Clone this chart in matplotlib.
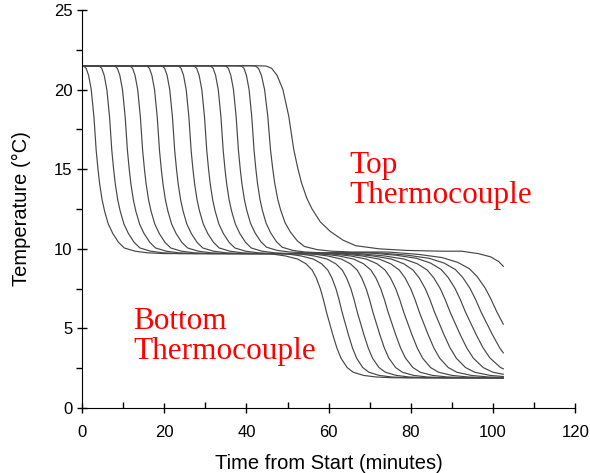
import numpy as np
import matplotlib.pyplot as plt
from matplotlib.ticker import MultipleLocator

# time (min) at which each run crosses 15 C in the first drop (top thermocouple)
drop1_mid = [3.9, 7.7, 11.5, 15.2, 19.3, 23.0, 27.0, 30.8, 34.8, 38.5, 42.3, 46.4, 52.5]
# time stretch of the first drop for each run
drop1_tail = [1, 1, 1, 1, 1, 1, 1, 1, 1, 1, 1, 1.2, 2.2]
# time (min) at which each run crosses 6 C in the second drop (bottom thermocouple)
drop2_mid = [59.5, 63.3, 67.0, 70.8, 74.5, 78.3, 82.1, 85.8, 89.6, 93.3, 97.1, 100.9, 106.4]
# time stretch of the second drop for each run
drop2_tail = [1.0, 1.0, 1.05, 1.1, 1.2, 1.3, 1.4, 1.5, 1.6, 1.7, 1.8, 1.9, 1.0]
# plateau levels (C)
start_temp = 21.5
mid_temp = [9.7, 9.7, 9.7, 9.7, 9.7, 9.7, 9.7, 9.7, 9.7, 9.75, 9.75, 9.8, 9.85]
low_temp = 1.9
t_end = 102.5

# shape of the first drop (offset from crossing, min / temp C)
d1_dt = [-4.5, -3.5, -2.9, -2.3, -1.65, -1.0, -0.45, 0, 0.4, 1.0, 1.6, 2.5, 3.6, 5.0, 6.4, 9, 12, 16]
d1_T = [21.5, 21.48, 21.34, 20.9, 20.0, 18.3, 16.2, 15.0, 14.1, 13.1, 12.4, 11.6, 11.0,
        10.45, 10.1, 9.9, 9.8, 9.75]
# shape of the second drop
d2_dt = [-14, -10, -7, -5, -3.5, -2.5, -1.5, -0.75, 0, 0.75, 1.5, 2.5, 3.5, 5, 6.5, 9, 12, 16]
d2_T = [9.75, 9.6, 9.4, 9.1, 8.7, 8.2, 7.5, 6.8, 6.0, 5.3, 4.6, 3.75, 3.1, 2.5, 2.2, 2.0, 1.9, 1.85]


def run_curve(i):
    # scale template shapes onto this run's plateaus
    f1 = (np.array(d1_T) - 9.75) / (21.5 - 9.75)
    t1 = drop1_mid[i] + np.array(d1_dt) * drop1_tail[i]
    T1 = mid_temp[i] + (start_temp - mid_temp[i]) * f1
    f2 = (np.array(d2_T) - 1.85) / (9.75 - 1.85)
    t2 = drop2_mid[i] + np.array(d2_dt) * drop2_tail[i]
    T2 = low_temp + (mid_temp[i] - low_temp) * f2
    first = t1 < t2[0]
    tt = np.concatenate([[0], t1[first], t2])
    TT = np.concatenate([[start_temp], T1[first], T2])
    keep = (tt >= 0) & (tt <= t_end)
    t, T = tt[keep], TT[keep]
    if t[-1] < t_end:
        t = np.append(t, t_end)
        T = np.append(T, np.interp(t_end, tt, TT))
    return t, T


fig = plt.figure(figsize=(5.9, 4.73), dpi=100)
ax = fig.add_axes([0.139, 0.1374, 0.836, 0.8414])

for i in range(len(drop1_mid)):
    t, T = run_curve(i)
    ax.plot(t, T, color='#474747', lw=0.85)

ax.set_xlim(0, 120)
ax.set_ylim(0, 25)
ax.xaxis.set_major_locator(MultipleLocator(20))
ax.xaxis.set_minor_locator(MultipleLocator(10))
ax.yaxis.set_major_locator(MultipleLocator(5))
ax.yaxis.set_minor_locator(MultipleLocator(2.5))
for s in ['top', 'right']:
    ax.spines[s].set_visible(False)
ax.tick_params(which='major', direction='inout', length=7, width=1, labelsize=12)
ax.tick_params(axis='x', which='major', pad=9)
ax.tick_params(axis='x', which='minor', direction='in', length=4, width=1)
ax.tick_params(axis='y', which='minor', direction='out', length=4, width=1)
for lab in ax.get_xticklabels() + ax.get_yticklabels():
    lab.set_family('Liberation Sans')

ax.set_xlabel('Time from Start (minutes)', fontsize=14.5, family='Liberation Sans', labelpad=10)
ax.set_ylabel('Temperature (\u00b0C)', fontsize=14.5, family='Liberation Sans', labelpad=16)

ax.text(65, 14.3, 'Top\nThermocouple', color='red', fontsize=22.5,
        family='Liberation Serif', ha='left', va='center', linespacing=1.05)
ax.text(12.4, 4.5, 'Bottom\nThermocouple', color='red', fontsize=22.5,
        family='Liberation Serif', ha='left', va='center', linespacing=1.05)

fig.savefig('out.png', dpi=100)
